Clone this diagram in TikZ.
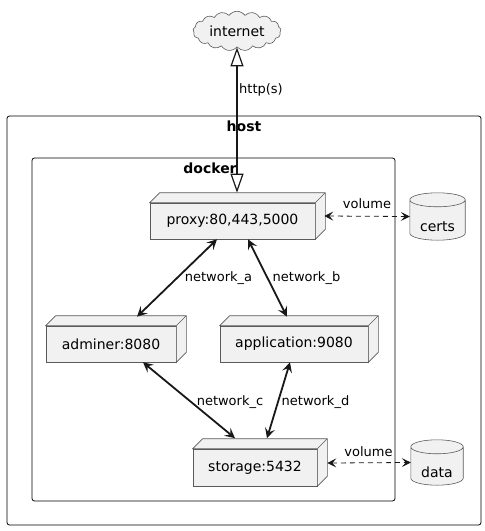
\documentclass[tikz,border=0pt]{standalone}
\usepackage{fontspec}
\setmainfont{DejaVu Sans}
\usetikzlibrary{arrows.meta, shapes.symbols, calc}
\definecolor{umlFill}{HTML}{F1F1F1}
\definecolor{umlLine}{HTML}{181818}
\definecolor{umlEdge}{HTML}{5A5A5A}

\begin{document}
\begin{tikzpicture}[x=1pt, y=-1pt,
    frame/.style={draw=black, rounded corners=2.5pt, line width=0.8pt},
    framelbl/.style={font=\bfseries\fontsize{14}{16}\selectfont, inner sep=1pt},
    box3d/.style={draw=umlEdge, fill=umlFill, line width=0.6pt, minimum height=36pt, font=\fontsize{14}{16}\selectfont},
    store/.style={inner sep=0pt, font=\fontsize{14}{16}\selectfont},
    lbl/.style={font=\fontsize{13}{15}\selectfont, inner sep=1pt},
    link/.style={draw=umlLine, line width=1.8pt, {Stealth[length=10pt,width=10pt,inset=4pt]}-{Stealth[length=10pt,width=10pt,inset=4pt]}},
    vol/.style={draw=umlLine, line width=0.8pt, dash pattern=on 5pt off 4pt, {Stealth[length=9pt,width=9pt,inset=4pt]}-{Stealth[length=9pt,width=9pt,inset=4pt]}}
  ]
  \useasboundingbox (0,0) rectangle (485,531);

  % frames
  \node[frame, minimum width=474pt, minimum height=409pt] (host) at (244,320.5) {};
  \node[framelbl] (hostlbl) at (244,126) {host};
  \node[frame, minimum width=363pt, minimum height=343pt] (docker) at (213.5,329.5) {};
  \node[framelbl] (dockerlbl) at (210,168) {docker};

  \node[cloud, cloud puffs=17, cloud puff arc=110, aspect=2.4, draw=umlEdge, fill=umlFill, line width=0.6pt,
        minimum width=88pt, minimum height=38pt, inner sep=0pt, font=\fontsize{14}{16}\selectfont] (internet) at (237,31) {internet};

  % containers
  \node[box3d, minimum width=165pt] (proxy) at (232.5,221) {proxy:80,443,5000};
  \node[box3d, minimum width=130pt] (adminer) at (111,344) {adminer:8080};
  \node[box3d, minimum width=148pt] (application) at (294,344) {application:9080};
  \node[box3d, minimum width=124pt, minimum height=37pt] (storage) at (255,467.5) {storage:5432};
  \foreach \s in {proxy, adminer, application, storage}
    \filldraw[draw=umlEdge, fill=umlFill, line width=0.6pt]
      (\s.north west) -- ++(10,-10) -- ($(\s.north east)+(10,-10)$) -- ($(\s.south east)+(10,-10)$)
      -- (\s.south east) -- (\s.north east) -- cycle
      (\s.north east) -- ++(10,-10);

  % volumes
  \node[store, minimum width=55pt, minimum height=47pt] (certs) at (437.5,216.5) {};
  \node[store, minimum width=52pt, minimum height=45pt] (data) at (437,462.5) {};
  \foreach \s in {certs, data} {
    \filldraw[draw=umlEdge, fill=umlFill, line width=0.6pt]
      let \p1 = ($(\s.north east)-(\s.north west)$) in
      ($(\s.north west)+(0,7)$) -- ($(\s.south west)+(0,-7)$)
      arc[start angle=180, end angle=360, x radius=0.5*\x1, y radius=7pt]
      -- ($(\s.north east)+(0,7)$)
      arc[start angle=0, end angle=180, x radius=0.5*\x1, y radius=7pt]
      arc[start angle=180, end angle=360, x radius=0.5*\x1, y radius=7pt];
    \node[store] (\s lbl) at ($(\s.center)+(0,10)$) {\s};
  }

  % labels
  \node[lbl] (httplbl) at (261,90) {http(s)};
  \node[lbl] (neta) at (218.5,278) {network\_a};
  \node[lbl] (netb) at (306.5,278) {network\_b};
  \node[lbl] (netc) at (230,402) {network\_c};
  \node[lbl] (netd) at (315.5,402) {network\_d};
  \node[lbl] (vola) at (367,204) {volume};
  \node[lbl] (volb) at (368.5,452) {volume};

  % connectors
  \draw[draw=umlLine, line width=1.8pt, {Triangle[open, fill=white, length=19pt, width=13pt, line width=1.2pt]}-{Triangle[open, fill=white, length=19pt, width=13pt, line width=1.2pt]}]
    (internet.south) -- ($(proxy.north)+(4.5,-10)$);
  \draw[link] ($(proxy.south)+(-15.5,0)$) -- ($(adminer.north)+(26,-9)$);
  \draw[link] ($(proxy.south)+(15.5,0)$) -- ($(application.north)+(-7,-9)$);
  \draw[link] ($(adminer.south)+(32,0)$) -- ($(storage.north)+(-20,-10.5)$);
  \draw[link] ($(application.south)+(-4,0)$) -- ($(storage.north)+(12,-10.5)$);
  \draw[vol] ($(proxy.east)+(9,-5)$) -- (certs.west);
  \draw[vol] ($(storage.east)+(10,-4.5)$) -- (data.west);
\end{tikzpicture}
\end{document}
